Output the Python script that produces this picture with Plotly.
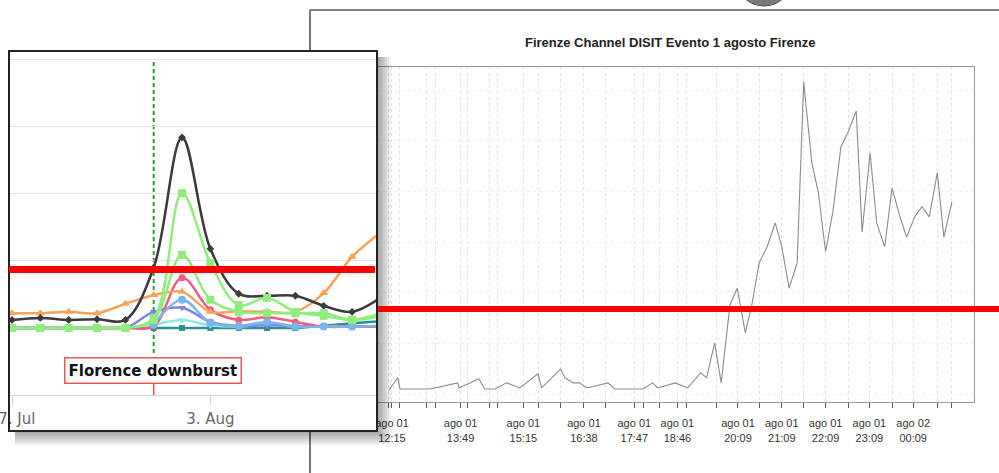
import plotly.graph_objects as go

W, H = 999, 473

# ---------------- Right chart (R style) data ----------------
r_times = [
    "2015-08-01 12:11", "2015-08-01 12:23", "2015-08-01 12:26", "2015-08-01 13:07",
    "2015-08-01 13:45", "2015-08-01 13:47", "2015-08-01 14:14", "2015-08-01 14:22",
    "2015-08-01 14:36", "2015-08-01 14:52", "2015-08-01 15:10", "2015-08-01 15:35",
    "2015-08-01 15:40", "2015-08-01 16:06", "2015-08-01 16:12", "2015-08-01 16:23",
    "2015-08-01 16:32", "2015-08-01 16:42", "2015-08-01 17:11", "2015-08-01 17:20",
    "2015-08-01 17:59", "2015-08-01 18:12", "2015-08-01 18:19", "2015-08-01 18:43",
    "2015-08-01 19:00", "2015-08-01 19:18", "2015-08-01 19:26", "2015-08-01 19:37",
    "2015-08-01 19:46", "2015-08-01 19:58", "2015-08-01 20:08", "2015-08-01 20:19",
    "2015-08-01 20:28", "2015-08-01 20:38", "2015-08-01 20:49", "2015-08-01 21:00",
    "2015-08-01 21:09", "2015-08-01 21:19", "2015-08-01 21:30", "2015-08-01 21:39",
    "2015-08-01 21:50", "2015-08-01 21:59", "2015-08-01 22:09", "2015-08-01 22:19",
    "2015-08-01 22:30", "2015-08-01 22:40", "2015-08-01 22:51", "2015-08-01 22:59",
    "2015-08-01 23:10", "2015-08-01 23:19", "2015-08-01 23:30", "2015-08-01 23:40",
    "2015-08-01 23:51", "2015-08-02 00:00", "2015-08-02 00:11", "2015-08-02 00:21",
    "2015-08-02 00:31", "2015-08-02 00:42", "2015-08-02 00:51", "2015-08-02 01:02",
]
r_values = [
    0.8, 3.2, 1.0, 1.0, 2.2, 1.2, 3.0, 1.0, 1.0, 2.2, 1.2, 4.0,
    1.2, 4.9, 3.2, 2.2, 2.2, 1.2, 2.2, 1.0, 1.0, 2.2, 1.2, 2.2,
    1.2, 4.2, 3.2, 10.1, 2.2, 17.6, 20.9, 12.1, 17.6, 25.9, 29.1, 33.8,
    29.1, 20.9, 25.9, 61.7, 45.8, 39.9, 28.1, 36.0, 48.8, 51.8, 55.9, 32.0,
    47.6, 33.8, 29.1, 40.7, 35.0, 31.0, 35.0, 37.0, 35.0, 43.7, 31.0, 37.9,
]
r_tick_times = [
    "2015-08-01 12:10", "2015-08-01 12:15", "2015-08-01 12:25", "2015-08-01 13:02",
    "2015-08-01 13:14", "2015-08-01 13:49", "2015-08-01 13:58", "2015-08-01 14:29",
    "2015-08-01 14:40", "2015-08-01 15:15", "2015-08-01 15:36", "2015-08-01 16:06",
    "2015-08-01 16:38", "2015-08-01 17:07", "2015-08-01 17:47", "2015-08-01 18:00",
    "2015-08-01 18:22", "2015-08-01 18:46", "2015-08-01 18:59", "2015-08-01 19:39",
    "2015-08-01 20:09", "2015-08-01 20:38", "2015-08-01 21:09", "2015-08-01 21:39",
    "2015-08-01 22:09", "2015-08-01 22:40", "2015-08-01 23:09", "2015-08-01 23:41",
    "2015-08-02 00:09", "2015-08-02 00:42", "2015-08-02 01:02",
]
r_tick_labels = [
    "", "ago 01<br>12:15", "", "", "", "ago 01<br>13:49", "", "", "",
    "ago 01<br>15:15", "", "", "ago 01<br>16:38", "", "ago 01<br>17:47", "", "",
    "ago 01<br>18:46", "", "", "ago 01<br>20:09", "", "ago 01<br>21:09", "",
    "ago 01<br>22:09", "", "ago 01<br>23:09", "", "ago 02<br>00:09", "", "",
]
r_y_grid = [0, 10, 20, 30, 40, 50, 60]
r_title = "Firenze Channel DISIT Evento 1 agosto Firenze"

# ---------------- Inset chart (Highcharts style) data ----------------
days = [
    "2015-07-27", "2015-07-28", "2015-07-29", "2015-07-30", "2015-07-31",
    "2015-08-01", "2015-08-02", "2015-08-03", "2015-08-04", "2015-08-05",
    "2015-08-06", "2015-08-07", "2015-08-08", "2015-08-09",
]
inset_tick_days = ["2015-07-27", "2015-08-03"]
inset_tick_labels = ["27. Jul", "3. Aug"]
event_day = "2015-08-01"
event_label = "Florence downburst"

s_teal = [0, 0, 0, 0, 0, 0, 0, 0, 0, 0, 0, 0.03, 0.07, 0.10]
s_cyan = [0, 0, 0, 0, 0, 0.05, 0.12, 0.04, 0.02, 0.05, 0.02, 0.02, 0.02, 0.02]
s_purple = [0, 0, 0, 0, 0, 0.24, 0.30, 0.09, 0.03, 0.04, 0.03, 0.02, 0.02, 0.03]
s_pink = [0, 0, 0, 0, 0, 0.03, 0.75, 0.27, 0.12, 0.16, 0.09, 0.02, 0.02, 0.02]
s_orange = [0.22, 0.22, 0.24, 0.22, 0.36, 0.49, 0.54, 0.24, 0.25, 0.24, 0.24, 0.52, 1.06, 1.42]
s_black = [0.12, 0.15, 0.12, 0.13, 0.12, 0.90, 2.84, 1.18, 0.51, 0.48, 0.48, 0.33, 0.24, 0.45]
s_green2 = [0, 0, 0, 0, 0, 0.12, 1.09, 0.42, 0.24, 0.22, 0.22, 0.22, 0.12, 0.18]
s_green1 = [0, 0, 0, 0, 0, 0.15, 2.01, 0.97, 0.34, 0.45, 0.24, 0.18, 0.12, 0.22]
s_blue = [None, None, None, None, None, 0.05, 0.42, 0.08, 0.03, 0.09, 0.02, 0.02, 0.02, 0.03]
inset_y_grid = [0, 1, 2, 3, 4]


def X(p):
    return p / W


def Y(p):
    return 1 - p / H


fig = go.Figure()

fig.add_trace(go.Scatter(
    x=r_times, y=r_values, mode="lines",
    line=dict(color="#8c8c8c", width=1.1),
    xaxis="x", yaxis="y", hoverinfo="skip", showlegend=False,
))

inset_series = [
    (s_teal, "#2b908f", "square", 6),
    (s_cyan, "#91e8e1", "triangle-down", 7),
    (s_purple, "#8085e9", "triangle-down", 7),
    (s_pink, "#f15c80", "circle", 7),
    (s_orange, "#f7a35c", "triangle-up", 8),
    (s_black, "#3a3a3f", "diamond", 6),
    (s_blue, "#7cb5ec", "circle", 8),
    (s_green2, "#90ed7d", "square", 8),
    (s_green1, "#90ed7d", "square", 8),
]
for vals, color, sym, size in inset_series:
    fig.add_trace(go.Scatter(
        x=days, y=vals, mode="lines+markers",
        line=dict(color=color, width=2.5, shape="spline", smoothing=1),
        marker=dict(symbol=sym, size=size, color=color),
        xaxis="x2", yaxis="y2", hoverinfo="skip", showlegend=False, cliponaxis=True,
    ))

fig.update_layout(
    width=W, height=H, margin=dict(l=0, r=0, t=0, b=0, autoexpand=False),
    paper_bgcolor="white", plot_bgcolor="white", showlegend=False,
    xaxis=dict(
        domain=[X(377), X(974)], type="date", anchor="y", automargin=False,
        range=["2015-08-01 11:54:30", "2015-08-02 01:32:18"],
        tickmode="array", tickvals=r_tick_times, ticktext=r_tick_labels,
        ticks="outside", ticklen=5, tickcolor="#555", tickwidth=1,
        showgrid=True, gridcolor="#e3e3e3", griddash="3px,3px", gridwidth=1,
        showline=True, linecolor="#9a9a9a", linewidth=1, mirror=True,
        zeroline=False, ticklabelstandoff=6,
        tickfont=dict(family="Liberation Sans, Arial, sans-serif", size=11, color="#333"),
    ),
    yaxis=dict(
        domain=[Y(402), Y(67)], anchor="x", range=[-1.58, 64.6], automargin=False,
        tickmode="array", tickvals=r_y_grid, showticklabels=False, ticks="",
        showgrid=True, gridcolor="#f0f0f0", griddash="3px,3px", gridwidth=1,
        showline=True, linecolor="#9a9a9a", linewidth=1, mirror=True, zeroline=False,
    ),
    xaxis2=dict(
        domain=[X(9), X(377)], type="date", anchor="y2", automargin=False,
        range=["2015-07-26 21:27", "2015-08-08 21:07"],
        tickmode="array", tickvals=inset_tick_days, ticktext=inset_tick_labels,
        ticks="outside", ticklen=10, tickcolor="#ccd6eb", tickwidth=1,
        showline=True, linecolor="#ccd6eb", linewidth=1, showgrid=False, zeroline=False,
        ticklabeloverflow="allow",
        tickfont=dict(family="DejaVu Sans, sans-serif", size=15, color="#666666"),
    ),
    yaxis2=dict(
        domain=[Y(395), Y(51)], anchor="x2", range=[-1.0, 4.13], automargin=False,
        tickmode="array", tickvals=inset_y_grid, showticklabels=False, ticks="",
        showgrid=True, gridcolor="#e6e6e6", gridwidth=1, zeroline=False, showline=False,
    ),
)

shapes = []
# outer frame of the right panel
for (x0, y0, x1, y1) in [(310, 10, 310, 51), (310, 431, 310, 473), (310, 10, 999, 10)]:
    shapes.append(dict(type="line", xref="paper", yref="paper", x0=X(x0), y0=Y(y0), x1=X(x1), y1=Y(y1),
                       line=dict(color="#555555", width=1.6), layer="below"))
# dark round object partly visible at top
shapes.append(dict(type="circle", xref="paper", yref="paper", x0=X(738), x1=X(790), y0=Y(6), y1=Y(-40),
                   fillcolor="#7a7a7a", line=dict(color="#555555", width=1), layer="below"))
# event marker in inset
shapes.append(dict(type="line", xref="x2", yref="y2", x0=event_day, x1=event_day, y0=-0.373, y1=4.0,
                   line=dict(color="#2f9a2f", width=2, dash="4px,3px"), layer="below"))
shapes.append(dict(type="line", xref="x2", yref="paper", x0=event_day, x1=event_day, y0=Y(383), y1=Y(395),
                   line=dict(color="#f04848", width=1.5), layer="above"))
# shadow of inset
for k in range(2, 15, 2):
    shapes.append(dict(type="rect", xref="paper", yref="paper", x0=X(377), x1=X(377 + k), y0=Y(57), y1=Y(431 + k),
                       fillcolor="rgba(0,0,0,0.055)", line=dict(width=0), layer="above"))
    shapes.append(dict(type="rect", xref="paper", yref="paper", x0=X(15), x1=X(377), y0=Y(431), y1=Y(431 + k),
                       fillcolor="rgba(0,0,0,0.055)", line=dict(width=0), layer="above"))
# white interior patch of the inset below its axis
shapes.append(dict(type="rect", xref="paper", yref="paper", x0=X(350), x1=X(377), y0=Y(400), y1=Y(430),
                   fillcolor="white", line=dict(width=0), layer="above"))
# inset frame
shapes.append(dict(type="rect", xref="paper", yref="paper", x0=X(9), x1=X(377), y0=Y(51), y1=Y(431),
                   line=dict(color="#222222", width=2), fillcolor="rgba(0,0,0,0)", layer="above"))
# red threshold bars
shapes.append(dict(type="rect", xref="paper", yref="paper", x0=X(9), x1=X(375), y0=Y(266), y1=Y(273),
                   fillcolor="#ff0000", line=dict(width=0), layer="above"))
shapes.append(dict(type="rect", xref="paper", yref="paper", x0=X(378), x1=X(999), y0=Y(306), y1=Y(312),
                   fillcolor="#ff0000", line=dict(width=0), layer="above"))
fig.update_layout(shapes=shapes)

fig.add_annotation(
    x=X(670), y=Y(42), xref="paper", yref="paper", showarrow=False,
    xanchor="center", yanchor="middle",
    text="<b>" + r_title + "</b>",
    font=dict(family="Liberation Sans, Arial, sans-serif", size=13, color="#222222"),
)
fig.add_annotation(
    x=X(153), y=Y(370.5), xref="paper", yref="paper", showarrow=False,
    xanchor="center", yanchor="middle",
    text="<b>" + event_label + "</b>",
    font=dict(family="DejaVu Sans, sans-serif", size=15, color="#111111"),
    bgcolor="white", bordercolor="#f25555", borderwidth=1.5, borderpad=3,
)

fig.write_html("out.html", config={"displayModeBar": False},
               post_script="document.body.style.margin='0px';")
